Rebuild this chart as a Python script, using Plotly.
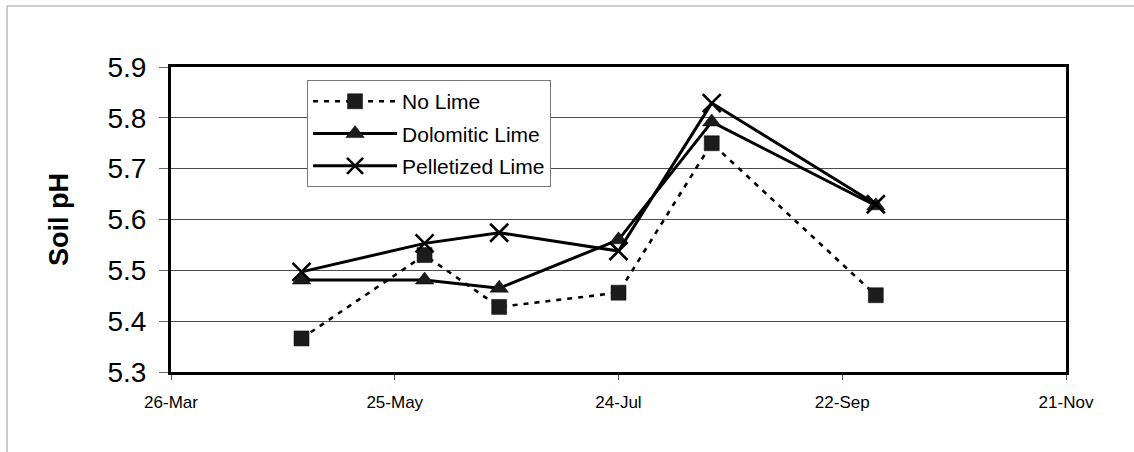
import plotly.graph_objects as go

# ---- data ----
sample_dates = ["2001-04-30", "2001-06-02", "2001-06-22", "2001-07-24", "2001-08-18", "2001-10-01"]
no_lime = [5.366, 5.530, 5.428, 5.456, 5.750, 5.451]
dolomitic_lime = [5.481, 5.481, 5.465, 5.560, 5.792, 5.627]
pelletized_lime = [5.497, 5.553, 5.574, 5.538, 5.829, 5.630]

x_tick_vals = ["2001-03-26", "2001-05-25", "2001-07-24", "2001-09-22", "2001-11-21"]
x_tick_text = ["26-Mar", "25-May", "24-Jul", "22-Sep", "21-Nov"]
y_tick_vals = [5.3, 5.4, 5.5, 5.6, 5.7, 5.8, 5.9]
y_tick_text = ["5.3", "5.4", "5.5", "5.6", "5.7", "5.8", "5.9"]

FONT = "Arial, Liberation Sans, sans-serif"

fig = go.Figure()
fig.add_trace(go.Scatter(
    x=sample_dates, y=no_lime, name="No Lime", mode="lines+markers",
    line=dict(color="black", width=2.6, dash="5px,6px"),
    marker=dict(symbol="square", size=15, color="#1c1c1c", line=dict(color="black", width=0.5)),
    legendgroup="a",
))
fig.add_trace(go.Scatter(
    x=sample_dates, y=dolomitic_lime, name="Dolomitic Lime", mode="lines+markers",
    line=dict(color="black", width=3),
    marker=dict(symbol="triangle-up", size=16, color="#1c1c1c", line=dict(color="black", width=0.5)),
    legendgroup="b",
))
fig.add_trace(go.Scatter(
    x=sample_dates, y=pelletized_lime, name="Pelletized Lime", mode="lines+markers",
    line=dict(color="black", width=3),
    marker=dict(symbol="x-thin", size=18, color="black", line=dict(color="black", width=2.6)),
    legendgroup="c",
))

fig.update_layout(
    width=1134, height=452,
    margin=dict(l=171, r=68, t=67, b=80),
    paper_bgcolor="white", plot_bgcolor="white",
    font=dict(family=FONT, color="black"),
    showlegend=True,
    legend=dict(
        x=0.152, y=0.957, xanchor="left", yanchor="top",
        bgcolor="white", bordercolor="#777777", borderwidth=1,
        font=dict(size=21, family=FONT, color="black"),
        itemwidth=84, tracegroupgap=2,
    ),
    shapes=[dict(
        type="rect", xref="paper", yref="paper",
        x0=-0.1832, x1=1.2, y0=-0.5, y1=1.2,
        line=dict(color="#9a9a9a", width=1), layer="below",
    )],
)

fig.update_xaxes(
    type="date", range=["2001-03-26", "2001-11-21"],
    tickmode="array", tickvals=x_tick_vals, ticktext=x_tick_text,
    tickfont=dict(size=17, family=FONT, color="black"),
    ticklabelstandoff=8,
    showgrid=False, zeroline=False,
    showline=True, linecolor="black", linewidth=3, mirror=True,
    ticks="outside", ticklen=5, tickcolor="#555555", tickwidth=1,
)
fig.update_yaxes(
    range=[5.3, 5.9],
    tickmode="array", tickvals=y_tick_vals, ticktext=y_tick_text,
    tickfont=dict(size=28, family=FONT, color="black"),
    ticklabelstandoff=7,
    showgrid=True, gridcolor="#4d4d4d", gridwidth=1, zeroline=False,
    showline=True, linecolor="black", linewidth=3, mirror=True,
    ticks="outside", ticklen=9, tickcolor="#666666", tickwidth=1,
    title=dict(text="<b>Soil pH</b>", font=dict(size=27, family=FONT, color="black"), standoff=32),
)

fig.write_html("out.html")
